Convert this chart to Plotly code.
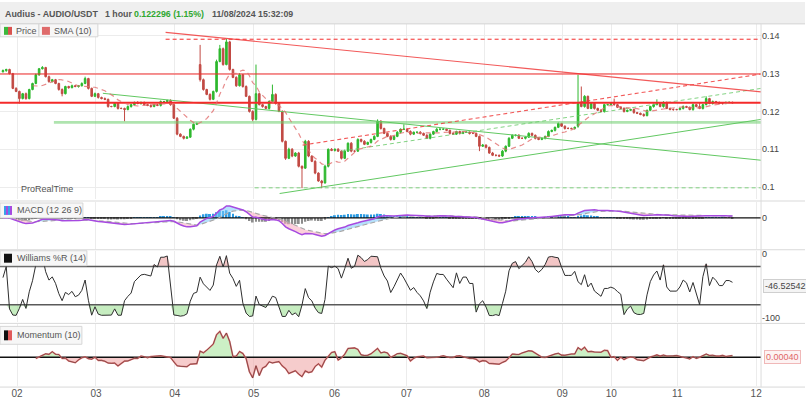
import numpy as np
import pandas as pd
import plotly.graph_objects as go

# ---------------- data ----------------
closes = [
 0.1308,0.1311,0.1300,0.1261,0.1253,0.1234,0.1247,0.1234,0.1258,0.1274,
 0.1297,0.1313,0.1316,0.1292,0.1279,0.1284,0.1274,0.1258,0.1247,0.1266,
 0.1263,0.1268,0.1266,0.1268,0.1274,0.1287,0.1261,0.1240,0.1247,0.1237,
 0.1234,0.1232,0.1213,0.1213,0.1221,0.1208,0.1208,0.1205,0.1213,0.1218,
 0.1224,0.1221,0.1224,0.1218,0.1216,0.1213,0.1218,0.1216,0.1226,0.1226,
 0.1229,0.1218,0.1182,0.1140,0.1134,0.1129,0.1132,0.1153,0.1166,0.1168,
 0.1284,0.1258,0.1245,0.1232,0.1253,0.1332,0.1366,0.1324,0.1384,0.1311,
 0.1290,0.1268,0.1297,0.1266,0.1240,0.1200,0.1179,0.1247,0.1218,0.1213,
 0.1208,0.1226,0.1245,0.1221,0.1200,0.1121,0.1076,0.1100,0.1082,0.1090,
 0.1055,0.1050,0.1121,0.1082,0.1068,0.1037,0.1016,0.1011,0.1055,0.1100,
 0.1097,0.1100,0.1095,0.1076,0.1095,0.1116,0.1095,0.1095,0.1126,0.1121,
 0.1113,0.1118,0.1126,0.1134,0.1174,0.1155,0.1142,0.1134,0.1126,0.1134,
 0.1145,0.1153,0.1153,0.1147,0.1140,0.1145,0.1145,0.1142,0.1137,0.1129,
 0.1140,0.1147,0.1153,0.1153,0.1153,0.1150,0.1142,0.1140,0.1147,0.1142,
 0.1145,0.1145,0.1142,0.1142,0.1134,0.1108,0.1111,0.1105,0.1090,0.1084,
 0.1084,0.1082,0.1095,0.1108,0.1129,0.1137,0.1137,0.1129,0.1129,0.1132,
 0.1142,0.1137,0.1129,0.1126,0.1129,0.1134,0.1147,0.1150,0.1158,0.1168,
 0.1161,0.1155,0.1155,0.1155,0.1158,0.1221,0.1213,0.1240,0.1208,0.1221,
 0.1208,0.1203,0.1200,0.1218,0.1218,0.1221,0.1218,0.1211,0.1208,0.1200,
 0.1203,0.1205,0.1197,0.1195,0.1192,0.1189,0.1203,0.1213,0.1218,0.1221,
 0.1213,0.1224,0.1208,0.1205,0.1205,0.1205,0.1208,0.1213,0.1211,0.1205,
 0.1218,0.1213,0.1208,0.1218,0.1234,0.1221,0.1226,0.1224,0.1221,0.1221,
 0.1224,0.1224,0.122296]
first_open = 0.1305
gap_opens = {60: 0.1324, 175: 0.1161}

# wick lengths in units of 0.0001
upper_wick = [
 3,2,2,2,3,2,2,3,2,2, 3,2,4,2,3,2,2,2,3,2,
 2,3,2,2,3,5,2,2,3,2, 2,3,2,2,3,2,2,2,3,2,
 2,3,2,2,2,3,2,2,3,2, 2,3,2,3,2,2,3,2,2,3,
 52,3,2,3,2,5,10,3,8,3, 2,3,4,2,3,2,3,77,3,2,
 2,3,26,3,2,3,2,4,3,2, 3,2,4,3,2,3,2,3,4,2,
 3,2,3,2,4,2,3,2,3,2, 3,2,2,3,5,3,2,2,3,2,
 3,2,13,2,3,2,2,3,2,3, 2,2,3,2,3,2,2,3,2,2,
 3,2,2,3,2,2,3,2,2,3, 2,2,3,2,3,2,2,3,2,2,
 3,2,2,3,2,2,3,2,2,3, 2,2,3,2,2,76,45,3,2,3,
 2,2,3,2,2,3,13,2,2,3, 2,2,3,2,2,3,2,2,3,11,
 2,3,2,2,3,2,2,3,2,2, 3,2,11,2,6,2,3,2,2,3, 2,2,2]
lower_wick = [
 2,3,2,2,2,13,2,3,2,2, 2,3,2,2,3,2,2,3,7,2,
 3,2,2,3,2,2,3,2,2,3, 2,2,3,2,2,3,2,31,2,3,
 2,2,3,2,2,3,2,2,3,2, 2,3,2,3,2,3,2,2,3,2,
 5,3,2,3,2,3,2,3,2,3, 2,3,2,3,2,3,5,3,2,3,
 2,3,2,3,2,3,4,2,3,2, 3,53,2,3,2,3,2,14,2,3,
 2,3,2,3,2,2,3,2,2,3, 2,2,3,2,2,3,2,2,3,2,
 2,3,2,2,3,2,2,3,2,2, 3,2,2,3,2,2,3,2,2,3,
 2,2,3,2,2,13,2,3,2,2, 3,2,2,3,2,2,3,2,2,3,
 2,2,3,2,2,3,2,2,3,2, 2,3,2,2,3,4,2,3,2,2,
 3,2,2,3,2,2,3,2,2,3, 2,2,3,2,2,3,2,2,3,2,
 2,3,2,2,3,2,2,3,2,2, 3,2,2,3,2,2,3,2,2,3, 2,2,2]

tick_pos = [4.3, 28.3, 52.3, 76.3, 100.9, 122.8, 146.5, 170.2, 185.1, 205.2, 229.2]
tick_labels = ["02", "03", "04", "05", "06", "07", "08", "09", "10", "11", "12"]
price_ticks = [0.10, 0.11, 0.12, 0.13, 0.14]
price_tick_labels = ["0.1", "0.11", "0.12", "0.13", "0.14"]

# drawn objects (bar index, price)
red_desc_x, red_desc_y = [49.5, 230.7], [0.1409, 0.1252]
red_top_dash_x, red_top_dash_y = [49.5, 230.7], [0.1391, 0.1391]
red_res_x, red_res_y = [-0.9, 230.7], [0.1299, 0.1299]
red_last_x, red_last_y = [-0.9, 230.7], [0.1223, 0.1223]
green_h_x, green_h_y = [15.5, 230.7], [0.1171, 0.1171]
green_desc_x, green_desc_y = [30.4, 230.7], [0.1248, 0.1071]
green_asc_x, green_asc_y = [84.2, 230.7], [0.0983, 0.1179]
red_asc_dash_x, red_asc_dash_y = [91.2, 230.7], [0.1111, 0.1299]
green_asc_dash_x, green_asc_dash_y = [103.0, 230.7], [0.1095, 0.1261]
green_low_dash_x, green_low_dash_y = [76.6, 230.7], [0.0998, 0.0998]

last_williams_label = "-46.52542"
last_momentum_label = "0.00040"

# ---------------- derived series ----------------
c = np.array(closes)
n = len(c)
idx = np.arange(n)
o = np.concatenate([[first_open], c[:-1]])
for k, v in gap_opens.items():
    o[k] = v
h = np.maximum(o, c) + np.array(upper_wick) * 1e-4
l = np.minimum(o, c) - np.array(lower_wick) * 1e-4

s = pd.Series(c)
sma = s.rolling(10).mean()
ema12 = s.ewm(span=12, adjust=False).mean()
ema26 = s.ewm(span=26, adjust=False).mean()
macd = (ema12 - ema26).values
signal = pd.Series(macd).ewm(span=9, adjust=False).mean().values
hist = macd - signal
hh = pd.Series(h).rolling(14, min_periods=1).max().values
ll = pd.Series(l).rolling(14, min_periods=1).min().values
wr = (hh - c) / (hh - ll) * -100
mom = (s - s.shift(10)).values

W, H = 806, 400
def px(x): return x / W
def py(y): return 1 - y / H

XR = [-0.9, 230.7]
XD = [0, 762 / W]
FONT = "Liberation Sans, Arial, sans-serif"
RED = "#f42a2a"
GREEN_LN = "#62c862"
CUP = "#2eb82e"
CDN = "#c24a44"

fig = go.Figure()

def line(x, y, color, width=1.0, dash=None, ax=("x", "y")):
    fig.add_trace(go.Scatter(x=x, y=y, mode="lines", xaxis=ax[0], yaxis=ax[1],
                             line=dict(color=color, width=width, dash=dash),
                             showlegend=False, hoverinfo="skip"))

# ---- price panel ----
line(green_h_x, green_h_y, "rgba(110,205,110,0.55)", 2.6)
line(green_desc_x, green_desc_y, GREEN_LN, 1.0)
line(green_asc_x, green_asc_y, GREEN_LN, 1.0)
line(green_asc_dash_x, green_asc_dash_y, "rgba(100,200,100,0.8)", 1.0, "4px,3px")
line(green_low_dash_x, green_low_dash_y, "rgba(100,200,100,0.8)", 1.0, "4px,3px")
line(red_desc_x, red_desc_y, "rgba(240,60,60,0.85)", 1.2)
line(red_top_dash_x, red_top_dash_y, RED, 1.0, "4px,3px")
line(red_asc_dash_x, red_asc_dash_y, "rgba(240,60,60,0.85)", 1.1, "4px,3px")
line(red_res_x, red_res_y, RED, 1.2)
line(red_last_x, red_last_y, RED, 2.2)

fig.add_trace(go.Scatter(x=idx[9:], y=sma.values[9:], mode="lines",
                         line=dict(color="rgba(225,110,110,0.8)", width=1.2, dash="5px,4px"),
                         showlegend=False, hoverinfo="skip"))

fig.add_trace(go.Candlestick(x=idx, open=o, high=h, low=l, close=c,
                             increasing=dict(line=dict(color=CUP, width=1), fillcolor=CUP),
                             decreasing=dict(line=dict(color=CDN, width=1), fillcolor=CDN),
                             whiskerwidth=0, showlegend=False, hoverinfo="skip"))

# ---- MACD panel ----
A2 = ("x2", "y2")
up = np.where(macd >= signal, macd, signal)
dn = np.where(macd <= signal, macd, signal)
fig.add_trace(go.Bar(x=idx, y=hist, xaxis="x2", yaxis="y2", width=0.6,
                     marker=dict(color=np.where(hist >= 0, "#2b9be3", "#8c8c8c"), line=dict(width=0)),
                     showlegend=False, hoverinfo="skip"))
for band, col in ((up, "rgba(120,200,250,0.55)"), (dn, "rgba(250,170,190,0.55)")):
    fig.add_trace(go.Scatter(x=idx, y=signal, mode="lines", xaxis="x2", yaxis="y2",
                             line=dict(width=0), showlegend=False, hoverinfo="skip"))
    fig.add_trace(go.Scatter(x=idx, y=band, mode="lines", xaxis="x2", yaxis="y2", fill="tonexty",
                             fillcolor=col, line=dict(width=0), showlegend=False, hoverinfo="skip"))
line(XR, [0, 0], "#111", 1.4, ax=A2)
line(idx, signal, "#a8a8a8", 1.2, "5px,3px", ax=A2)
line(idx, macd, "#a64ae0", 1.5, ax=A2)

# ---- Williams %R panel ----
A3 = ("x3", "y3")
for base, bound, col in ((-20, np.maximum(wr, -20), "rgba(235,160,160,0.6)"),
                         (-80, np.minimum(wr, -80), "rgba(160,225,150,0.6)")):
    fig.add_trace(go.Scatter(x=idx, y=np.full(n, base), mode="lines", xaxis="x3", yaxis="y3",
                             line=dict(width=0), showlegend=False, hoverinfo="skip"))
    fig.add_trace(go.Scatter(x=idx, y=bound, mode="lines", xaxis="x3", yaxis="y3", fill="tonexty",
                             fillcolor=col, line=dict(width=0), showlegend=False, hoverinfo="skip"))
line(XR, [-20, -20], "#5a5a5a", 1.5, ax=A3)
line(XR, [-80, -80], "#5a5a5a", 1.5, ax=A3)
line(idx, wr, "#2e2e2e", 1.0, ax=A3)

# ---- Momentum panel ----
A4 = ("x4", "y4")
mi = idx[10:]
mv = mom[10:]
for bound, col in ((np.maximum(mv, 0), "rgba(170,230,160,0.6)"),
                   (np.minimum(mv, 0), "rgba(240,170,170,0.6)")):
    fig.add_trace(go.Scatter(x=mi, y=np.zeros(len(mi)), mode="lines", xaxis="x4", yaxis="y4",
                             line=dict(width=0), showlegend=False, hoverinfo="skip"))
    fig.add_trace(go.Scatter(x=mi, y=bound, mode="lines", xaxis="x4", yaxis="y4", fill="tonexty",
                             fillcolor=col, line=dict(width=0), showlegend=False, hoverinfo="skip"))
line(XR, [0, 0], "#111", 1.4, ax=A4)
line(mi, mv, "#e07070", 1.6, ax=A4)
line(mi, mv, "rgba(30,30,30,0.55)", 0.8, ax=A4)

# ---- axes ----
k2 = max(np.nanmax(np.r_[macd, signal, hist]) / 12, -np.nanmin(np.r_[macd, signal, hist]) / 26)
k4 = max(np.nanmax(mv) / 26, -np.nanmin(mv) / 24)

xcommon = dict(range=XR, tickvals=tick_pos, showgrid=True, gridcolor="#ececec", gridwidth=1,
               zeroline=False, showline=False, fixedrange=True)
tickfont = dict(family=FONT, size=9, color="#444")
ycommon = dict(side="right", showline=False, zeroline=False, ticks="", tickfont=tickfont, fixedrange=True)

fig.update_layout(
    width=W, height=H, margin=dict(l=0, r=0, t=0, b=0),
    paper_bgcolor="white", plot_bgcolor="white", hovermode=False,
    font=dict(family=FONT, size=9, color="#444"),
    xaxis=dict(domain=XD, anchor="y", showticklabels=False, rangeslider=dict(visible=False), **xcommon),
    xaxis2=dict(domain=XD, anchor="y2", showticklabels=False, matches="x", **xcommon),
    xaxis3=dict(domain=XD, anchor="y3", showticklabels=False, matches="x", **xcommon),
    xaxis4=dict(domain=XD, anchor="y4", showticklabels=True, ticktext=tick_labels, matches="x",
                tickfont=dict(family=FONT, size=10, color="#555"), ticks="", **xcommon),
    yaxis=dict(domain=[py(198), py(22)], anchor="x",
               range=[0.10 - 12 / 3800, 0.14 + 12 / 3800],
               tickvals=price_ticks, ticktext=price_tick_labels,
               showgrid=True, gridcolor="#ececec", **ycommon),
    yaxis2=dict(domain=[py(248), py(201)], anchor="x2", range=[-31 * k2, 16 * k2],
                tickvals=[0], ticktext=["0"], showgrid=False, **ycommon),
    yaxis3=dict(domain=[py(322), py(250)], anchor="x3", range=[-107.8, 4.7],
                tickvals=[0, -100], ticktext=["0", "-100"], showgrid=False, **ycommon),
    yaxis4=dict(domain=[py(386), py(324)], anchor="x4", range=[-29 * k4, 33 * k4],
                tickvals=[], showgrid=False, **ycommon),
)

# ---- decoration shapes ----
shapes = []
def rect(x0, y0, x1, y1, fill, line_col=None, lw=1):
    shapes.append(dict(type="rect", xref="paper", yref="paper", x0=px(x0), x1=px(x1), y0=py(y1), y1=py(y0),
                       fillcolor=fill, line=dict(color=line_col or fill, width=lw if line_col else 0),
                       layer="above"))
def hsep(y, x0=0, x1=W, col="#d9d9d9"):
    shapes.append(dict(type="line", xref="paper", yref="paper", x0=px(x0), x1=px(x1), y0=py(y), y1=py(y),
                       line=dict(color=col, width=1), layer="above"))

rect(0, 0, W, 22, "#efefef")
hsep(22, col="#d4d4d4")
for yy in (200, 249, 323, 387):
    hsep(yy)
shapes.append(dict(type="line", xref="paper", yref="paper", x0=px(762), x1=px(762), y0=py(387), y1=py(22),
                   line=dict(color="#dcdcdc", width=1), layer="above"))
rect(0, 22, 39, 35, "#f7f7f7", "#d6d6d6")
rect(39, 22, 98, 35, "#f7f7f7", "#d6d6d6")
rect(0, 202, 83, 217, "#f7f7f7", "#d6d6d6")
rect(0, 250, 87, 265, "#f7f7f7", "#d6d6d6")
rect(0, 326, 82, 344, "#f7f7f7", "#d6d6d6")
rect(4, 25, 8, 33, "#3cb83c"); rect(8, 25, 12, 33, "#d9534f")
rect(42, 25, 50, 33, "#df6b6b")
rect(4, 205, 6, 214, "#39a0e8"); rect(6, 205, 8, 214, "#a64ae0"); rect(8, 205, 10, 214, "#39a0e8"); rect(10, 205, 12, 214, "#a64ae0")
rect(4, 253, 12, 262, "#111")
rect(4, 330, 8, 340, "#111"); rect(8, 330, 12, 340, "#e05a5a")
fig.update_layout(shapes=shapes)

# ---- texts ----
ann = []
def text(x, y, t, size=9, color="#444", anchor="left", **kw):
    ann.append(dict(x=px(x), y=py(y), xref="paper", yref="paper", text=t, showarrow=False,
                    xanchor=anchor, yanchor="middle", font=dict(family=FONT, size=size, color=color), **kw))

text(3, 12, "<b>Audius - AUDIO/USDT</b>", 8.9, "#555")
text(103, 12, "<b>1 hour</b>", 8.8, "#555")
text(132, 12, "<b>0.122296 (1.15%)</b>", 8.8, "#2fa82f")
text(210, 12, "<b>11/08/2024 15:32:09</b>", 8.8, "#555")
text(14, 29, "Price", 9, "#555")
text(52, 29, "SMA (10)", 9, "#555")
text(15, 209.5, "MACD (12 26 9)", 9, "#555")
text(15, 257.5, "Williams %R (14)", 9, "#555")
text(15, 335, "Momentum (10)", 9, "#555")
text(19, 188, "ProRealTime", 9, "#555")
text(764, 285, last_williams_label, 9, "#444", bgcolor="#f4f4f4", bordercolor="#cfcfcf", borderpad=1)
text(765, 357, last_momentum_label, 9, "#e06666", bgcolor="#fdf3f3", bordercolor="#f0b8b8", borderpad=1)
fig.update_layout(annotations=ann)

fig.write_html("out.html", config={"displayModeBar": False},
               post_script="document.body.style.margin='0';document.body.style.padding='0';")
